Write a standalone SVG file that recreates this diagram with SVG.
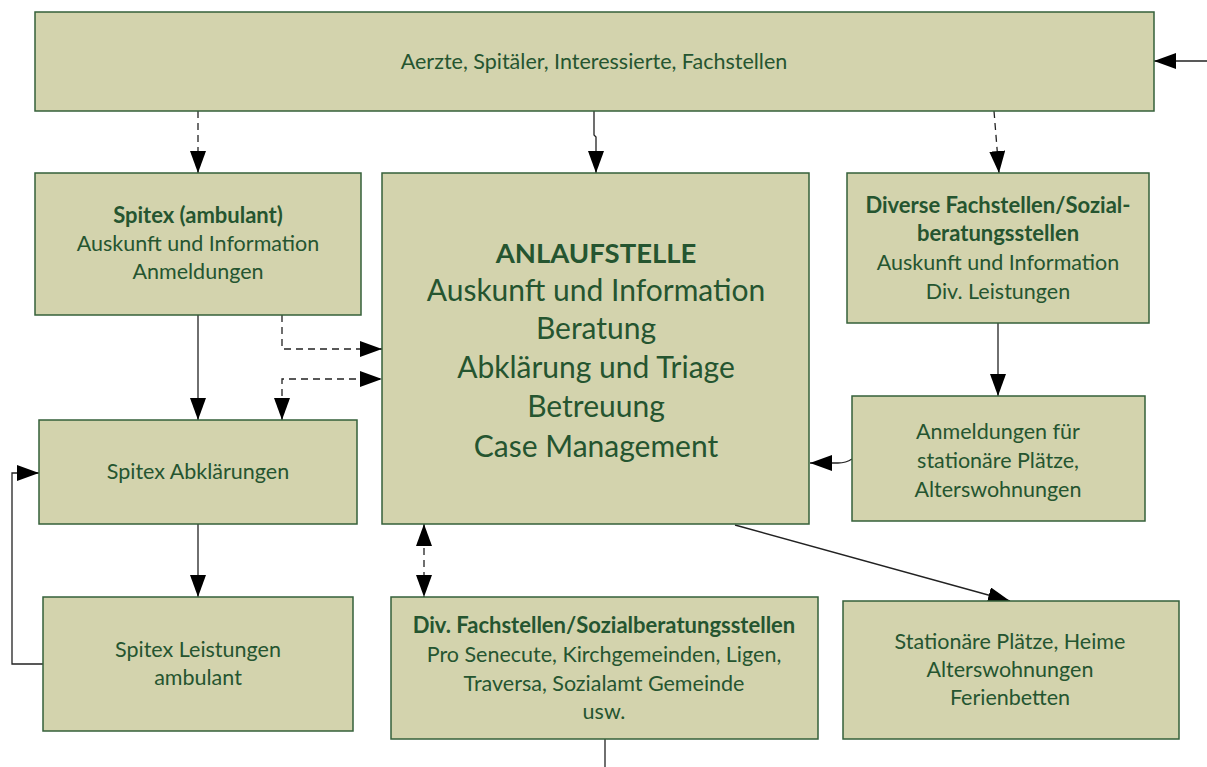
<svg xmlns="http://www.w3.org/2000/svg" width="1207" height="767" viewBox="0 0 1207 767">
<style>
.box{fill:#d3d3ad;stroke:#35603a;stroke-width:1.5}
text{font-family:Lato,"Open Sans","Liberation Sans",sans-serif;fill:#255530;text-anchor:middle}
.t{font-size:21.5px}
.b{font-weight:bold;font-size:22px}
.big{font-size:30px}
.bigb{font-size:27.5px;font-weight:bold}
.c{fill:none;stroke:#222;stroke-width:1.3}
.d{stroke-dasharray:7,5}
</style>
<defs>
<marker id="ah" viewBox="0 0 22 16" refX="22" refY="8" markerWidth="22" markerHeight="16" markerUnits="userSpaceOnUse" orient="auto-start-reverse">
<path d="M0,0 L22,8 L0,16 Z" fill="#000"/>
</marker>
</defs>
<g id="connectors">
<path class="c" d="M1207,61 H1154" marker-end="url(#ah)"/>
<path class="c d" d="M198,111 V173" marker-end="url(#ah)"/>
<path class="c" d="M594,111 V135 L596,137 V173" marker-end="url(#ah)"/>
<path class="c d" d="M994,111 L999,173" marker-end="url(#ah)"/>
<path class="c" d="M198,315 V420" marker-end="url(#ah)"/>
<path class="c d" d="M282,315 V349 H382" marker-end="url(#ah)"/>
<path class="c d" d="M282,420 V379 H382" marker-start="url(#ah)" marker-end="url(#ah)"/>
<path class="c" d="M998,323 V396" marker-end="url(#ah)"/>
<path class="c" d="M852,459 Q846,463 838,463 H810" marker-end="url(#ah)"/>
<path class="c" d="M735,525 L1010,601" marker-end="url(#ah)"/>
<path class="c" d="M198,524 V597" marker-end="url(#ah)"/>
<path class="c d" d="M424,524 V597" marker-start="url(#ah)" marker-end="url(#ah)"/>
<path class="c" d="M43,664 H12 V473 H39" marker-end="url(#ah)"/>
<path class="c" d="M605,739 V767"/>
</g>
<g id="top">
<rect class="box" x="35" y="12" width="1119" height="99"/>
<text class="t" x="594" y="69">Aerzte, Spitäler, Interessierte, Fachstellen</text>
</g>
<g id="spitex-ambulant">
<rect class="box" x="35" y="173" width="326" height="142"/>
<text class="t b" x="198" y="223">Spitex (ambulant)</text>
<text class="t" x="198" y="251">Auskunft und Information</text>
<text class="t" x="198" y="279">Anmeldungen</text>
</g>
<g id="anlaufstelle">
<rect class="box" x="382" y="173" width="427" height="351"/>
<text class="bigb" x="596" y="263">ANLAUFSTELLE</text>
<text class="big" x="596" y="301">Auskunft und Information</text>
<text class="big" x="596" y="339">Beratung</text>
<text class="big" x="596" y="378">Abklärung und Triage</text>
<text class="big" x="596" y="417">Betreuung</text>
<text class="big" x="596" y="457">Case Management</text>
</g>
<g id="diverse">
<rect class="box" x="847" y="173" width="302" height="150"/>
<text class="t b" x="998" y="213">Diverse Fachstellen/Sozial-</text>
<text class="t b" x="998" y="241">beratungsstellen</text>
<text class="t" x="998" y="270">Auskunft und Information</text>
<text class="t" x="998" y="299">Div. Leistungen</text>
</g>
<g id="anmeldungen">
<rect class="box" x="852" y="396" width="293" height="125"/>
<text class="t" x="998" y="439">Anmeldungen für</text>
<text class="t" x="998" y="468">stationäre Plätze,</text>
<text class="t" x="998" y="497">Alterswohnungen</text>
</g>
<g id="spitex-abklaerungen">
<rect class="box" x="39" y="420" width="318" height="104"/>
<text class="t" x="198" y="479">Spitex Abklärungen</text>
</g>
<g id="spitex-leistungen">
<rect class="box" x="43" y="597" width="310" height="134"/>
<text class="t" x="198" y="657">Spitex Leistungen</text>
<text class="t" x="198" y="685">ambulant</text>
</g>
<g id="div-fachstellen">
<rect class="box" x="391" y="597" width="427" height="142"/>
<text class="t b" x="604" y="633">Div. Fachstellen/Sozialberatungsstellen</text>
<text class="t" x="604" y="662">Pro Senecute, Kirchgemeinden, Ligen,</text>
<text class="t" x="604" y="691">Traversa, Sozialamt Gemeinde</text>
<text class="t" x="604" y="719">usw.</text>
</g>
<g id="stationaer">
<rect class="box" x="843" y="601" width="336" height="138"/>
<text class="t" x="1010" y="649">Stationäre Plätze, Heime</text>
<text class="t" x="1010" y="677">Alterswohnungen</text>
<text class="t" x="1010" y="705">Ferienbetten</text>
</g>
</svg>
